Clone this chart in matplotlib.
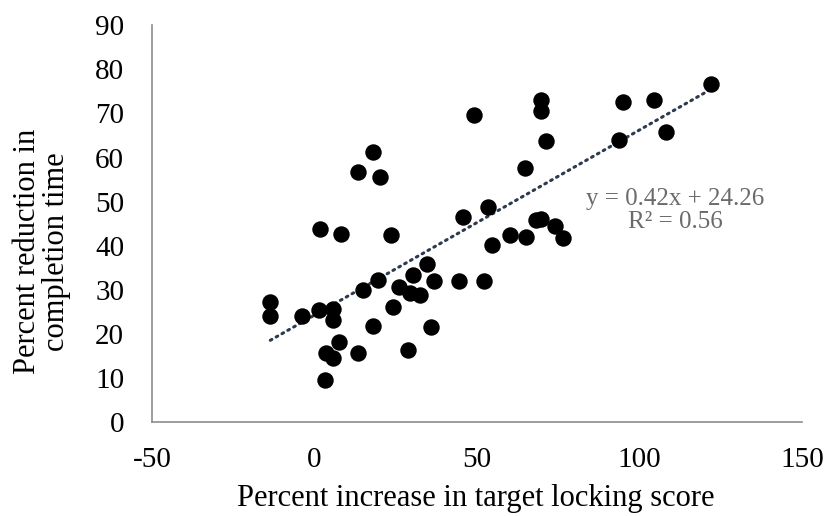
import matplotlib
matplotlib.use("Agg")
import matplotlib.pyplot as plt
import numpy as np

plt.rcParams['font.family'] = ['Liberation Serif', 'DejaVu Serif']
plt.rcParams['axes.unicode_minus'] = False

# percent increase in target locking score vs percent reduction in completion time
x_increase = [-13.6, -13.6, -3.7, 1.5, 1.8, 5.8, 5.8, 7.5, 3.4, 5.8,
              3.1, 8.3, 13.3, 13.3, 18.0, 20.1, 14.8, 19.6, 18.0, 23.4,
              24.2, 26.1, 29.5, 32.6, 30.4, 34.7, 36.7, 35.9, 28.7, 44.5,
              52.1, 45.8, 53.4, 54.5, 49.0, 60.2, 65.1, 64.8, 68.3, 69.6,
              69.6, 69.6, 71.3, 74.0, 76.6, 93.7, 94.8, 104.5, 108.1, 121.9]
y_reduction = [27.2, 24.0, 24.0, 25.5, 43.9, 25.7, 23.1, 18.2, 15.7, 14.5,
               9.5, 42.7, 15.7, 56.7, 61.3, 55.6, 29.9, 32.3, 21.9, 42.5,
               26.2, 30.6, 29.3, 28.9, 33.4, 35.9, 31.9, 21.6, 16.4, 31.9,
               31.9, 46.5, 48.8, 40.2, 69.6, 42.5, 42.0, 57.6, 45.8, 46.1,
               73.0, 70.5, 63.7, 44.4, 41.8, 63.9, 72.6, 73.0, 65.8, 76.6]

slope = 0.42
intercept = 24.26
r_squared = 0.56

x_ticks = [-50, 0, 50, 100, 150]
y_ticks = [0, 10, 20, 30, 40, 50, 60, 70, 80, 90]

fig = plt.figure(figsize=(8.26, 5.16), dpi=100)
ax = fig.add_axes([0.184, 0.182, 0.787, 0.769])

ax.scatter(x_increase, y_reduction, s=140, color='black', zorder=3, linewidths=0)

xs = np.array([min(x_increase), max(x_increase)])
ax.plot(xs, slope * xs + intercept, linestyle=(0, (0.6, 1.6)), color='#2b3a4f',
        linewidth=2.2, dash_capstyle='round', zorder=2)

ax.text(0.805, 0.534, f"y = {slope:.2f}x + {intercept:.2f}\nR\u00b2 = {r_squared:.2f}",
        transform=ax.transAxes, ha='center', va='center', fontsize=18,
        color='#6b6b6b', linespacing=1.05)

ax.set_xlim(-50, 150)
ax.set_ylim(0, 90)
ax.set_xticks(x_ticks)
ax.set_yticks(y_ticks)
ax.tick_params(axis='both', length=0, labelsize=21)
ax.tick_params(axis='x', pad=18)
ax.tick_params(axis='y', pad=20)

for side in ['top', 'right']:
    ax.spines[side].set_visible(False)
for side in ['left', 'bottom']:
    ax.spines[side].set_color('#8c8c8c')
    ax.spines[side].set_linewidth(1.2)

ax.set_xlabel("Percent increase in target locking score", fontsize=22)
ax.set_ylabel("Percent reduction in\ncompletion time", fontsize=22, linespacing=1.0)
ax.xaxis.set_label_coords(0.498, -0.155)
ax.yaxis.set_label_coords(-0.125, 0.43)

fig.savefig("out.png", dpi=100)
